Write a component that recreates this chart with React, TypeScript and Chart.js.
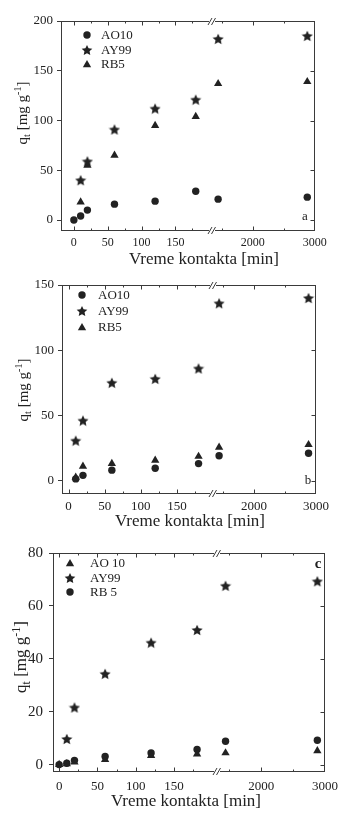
import { useEffect, useRef } from "react";
import { Chart, registerables } from "chart.js";

Chart.register(...registerables);

// Contact times [min]: short segment and long segment of the broken axis
const shortTimes = [0, 10, 20, 60, 120, 180];
const longTimes = [1440, 2880];
const shortTicks = [0, 50, 100, 150];
const longTicks = [2000, 3000];
const shortMinor = [25, 75, 125, 175];
const longMinor = [1500, 2500];

// Panel a
const aNames = ["AO10", "AY99", "RB5"];
const aAO10 = [0, 4, 10, 16, 19, 29, 21, 23];
const aAY99 = [null, 40, 59, 91, 112, 121, 182, 185];
const aRB5 = [null, 18, 55, 65, 95, 104, 137, 139];
const aYTicks = [0, 50, 100, 150, 200];

// Panel b
const bNames = ["AO10", "AY99", "RB5"];
const bAO10 = [null, 1.3, 4, 8, 9.5, 13, 19, 21];
const bAY99 = [null, 30.6, 46, 75, 78, 86, 136, 140];
const bRB5 = [null, 2.5, 11, 13, 15.5, 18.5, 25.5, 27.5];
const bYTicks = [0, 50, 100, 150];

// Panel c
const cNames = ["AO 10", "AY99", "RB 5"];
const cAO10 = [0, 0.3, 0.9, 1.9, 3.4, 4, 4.4, 5.2];
const cAY99 = [null, 9.7, 21.6, 34.3, 46.1, 50.9, 67.6, 69.3];
const cRB5 = [0, 0.5, 1.6, 3.1, 4.4, 5.7, 8.8, 9.2];
const cYTicks = [0, 20, 40, 60, 80];

const FONT = "'Liberation Serif', 'DejaVu Serif', 'Times New Roman', serif";
const INK = "#222222";
const AXIS = "#3a3a3a";
const W = 344;

type Marker = "circle" | "star" | "triangle";

interface PanelSpec {
  top: number;
  height: number;
  pad: { left: number; right: number; top: number };
  xAxisH: number;
  yAxisW: number;
  xLeft: [number, number];
  xRight: [number, number];
  wLeft: number;
  wRight: number;
  y: [number, number];
  yTicks: number[];
  yFont: number;
  yPad: number;
  xFont: number;
  xLabelY: number;
  names: string[];
  markers: Marker[];
  values: (number | null)[][];
  legend: { mx: number; rows: number[]; tx: number; font: number };
  letter: { text: string; x: number; y: number; bold: boolean; size: number };
  xTitle: [number, number];
  yTitle: [number, number];
  xTitleFont: number;
  yTitleFont: number;
}

let starCache: HTMLCanvasElement | null = null;
function starImage(): HTMLCanvasElement {
  if (starCache) return starCache;
  const size = 12;
  const c = document.createElement("canvas");
  c.width = size;
  c.height = size;
  const g = c.getContext("2d")!;
  starPath(g, size / 2, size / 2 + 0.5, size / 2 - 0.2);
  g.fillStyle = INK;
  g.fill();
  starCache = c;
  return c;
}

function starPath(g: CanvasRenderingContext2D, cx: number, cy: number, R: number) {
  const r = R * 0.48;
  g.beginPath();
  for (let i = 0; i < 10; i++) {
    const ang = -Math.PI / 2 + (i * Math.PI) / 5;
    const rad = i % 2 === 0 ? R : r;
    g.lineTo(cx + rad * Math.cos(ang), cy + rad * Math.sin(ang));
  }
  g.closePath();
}

function drawMarker(g: CanvasRenderingContext2D, m: Marker, x: number, y: number) {
  g.fillStyle = INK;
  if (m === "circle") {
    g.beginPath();
    g.arc(x, y, 3.7, 0, Math.PI * 2);
    g.fill();
  } else if (m === "triangle") {
    const r = 4.8;
    g.beginPath();
    for (let i = 0; i < 3; i++) {
      const ang = -Math.PI / 2 + (i * 2 * Math.PI) / 3;
      g.lineTo(x + r * Math.cos(ang), y + 0.8 + r * Math.sin(ang));
    }
    g.closePath();
    g.fill();
  } else {
    starPath(g, x, y + 0.5, 5.6);
    g.fill();
  }
}

function pointStyleFor(m: Marker): any {
  if (m === "star") return starImage();
  return m;
}

function radiusFor(m: Marker) {
  if (m === "circle") return 3.7;
  if (m === "triangle") return 4.8;
  return 6;
}

const panelA: PanelSpec = {
  top: 0,
  height: 272,
  pad: { left: 16, right: 29, top: 21 },
  xAxisH: 41,
  yAxisW: 45,
  xLeft: [-19, 204],
  xRight: [1341, 3005],
  wLeft: 151,
  wRight: 103,
  y: [-11, 200],
  yTicks: aYTicks,
  yFont: 13,
  yPad: 4,
  xFont: 12,
  xLabelY: 243,
  names: aNames,
  markers: ["circle", "star", "triangle"],
  values: [aAO10, aAY99, aRB5],
  legend: { mx: 87, rows: [35, 50, 64], tx: 101, font: 13 },
  letter: { text: "a", x: 305, y: 217, bold: false, size: 13 },
  xTitle: [204, 260],
  yTitle: [22, 113],
  xTitleFont: 17,
  yTitleFont: 15,
};

const panelB: PanelSpec = {
  top: 272,
  height: 258,
  pad: { left: 17, right: 28, top: 13 },
  xAxisH: 36,
  yAxisW: 45,
  xLeft: [-9, 200],
  xRight: [1342, 3000],
  wLeft: 151,
  wRight: 103,
  y: [-10.3, 150],
  yTicks: bYTicks,
  yFont: 13,
  yPad: 4,
  xFont: 13,
  xLabelY: 235,
  names: bNames,
  markers: ["circle", "star", "triangle"],
  values: [bAO10, bAY99, bRB5],
  legend: { mx: 82, rows: [23, 39, 55], tx: 98, font: 13 },
  letter: { text: "b", x: 308, y: 209, bold: false, size: 13 },
  xTitle: [190, 250],
  yTitle: [23, 118],
  xTitleFont: 17,
  yTitleFont: 15,
};

const panelC: PanelSpec = {
  top: 530,
  height: 283,
  pad: { left: 8, right: 19, top: 23 },
  xAxisH: 41,
  yAxisW: 45,
  xLeft: [-8, 206],
  xRight: [1306, 3000],
  wLeft: 164,
  wRight: 108,
  y: [-2.8, 80],
  yTicks: cYTicks,
  yFont: 15,
  yPad: 6,
  xFont: 13,
  xLabelY: 257,
  names: cNames,
  markers: ["triangle", "star", "circle"],
  values: [cAO10, cAY99, cRB5],
  legend: { mx: 70, rows: [33, 48, 62], tx: 90, font: 13 },
  letter: { text: "c", x: 318, y: 34, bold: true, size: 15 },
  xTitle: [186, 272],
  yTitle: [21, 127],
  xTitleFont: 17,
  yTitleFont: 17,
};

function crisp(v: number) {
  return Math.round(v) + 0.5;
}

function decorations(p: PanelSpec) {
  return {
    id: "panelDecor",
    afterDraw(chart: any) {
      const g: CanvasRenderingContext2D = chart.ctx;
      const a = chart.chartArea;
      const xl = chart.scales.xL;
      const xr = chart.scales.xR;
      const ys = chart.scales.y;
      const L = crisp(a.left);
      const R = crisp(a.right - 1);
      const T = crisp(a.top);
      const B = crisp(a.bottom - 1);
      g.save();
      g.strokeStyle = AXIS;
      g.lineWidth = 1;
      g.strokeRect(L, T, R - L, B - T);

      // inward tick marks on the time axes (bottom and top)
      const tick = (px: number, len: number) => {
        const x = crisp(px);
        g.beginPath();
        g.moveTo(x, B);
        g.lineTo(x, B - len);
        g.moveTo(x, T);
        g.lineTo(x, T + len);
        g.stroke();
      };
      shortTicks.forEach((v) => tick(xl.getPixelForValue(v), 4));
      shortMinor.forEach((v) => v < p.xLeft[1] && tick(xl.getPixelForValue(v), 2));
      longTicks.forEach((v) => v <= p.xRight[1] && tick(Math.min(xr.getPixelForValue(v), a.right - 1), 4));
      longMinor.forEach((v) => v > p.xRight[0] && tick(xr.getPixelForValue(v), 2));

      // inward ticks on the right border
      p.yTicks.forEach((v) => {
        const y = crisp(ys.getPixelForValue(v));
        g.beginPath();
        g.moveTo(R, y);
        g.lineTo(R - 4, y);
        g.stroke();
      });

      // axis break marks
      const bx = xr.left;
      [T, B].forEach((ly) => {
        g.fillStyle = "#ffffff";
        g.fillRect(bx - 3, ly - 2, 6, 4);
        g.strokeStyle = AXIS;
        g.beginPath();
        [-2, 1.5].forEach((dx) => {
          g.moveTo(bx + dx - 2, ly + 3.5);
          g.lineTo(bx + dx + 2, ly - 3.5);
        });
        g.stroke();
      });

      // time-axis tick labels
      g.fillStyle = INK;
      g.font = `${p.xFont}px ${FONT}`;
      g.textAlign = "center";
      g.textBaseline = "middle";
      shortTicks.forEach((v) => g.fillText(String(v), xl.getPixelForValue(v), p.xLabelY));
      longTicks.forEach((v) => g.fillText(String(v), xr.getPixelForValue(v), p.xLabelY));

      // legend inside the plot
      g.font = `${p.legend.font}px ${FONT}`;
      g.textAlign = "left";
      g.textBaseline = "middle";
      p.names.forEach((name, i) => {
        const y = p.legend.rows[i];
        drawMarker(g, p.markers[i], p.legend.mx, y);
        g.fillStyle = INK;
        g.fillText(name, p.legend.tx, y + 0.5);
      });

      // panel letter
      g.fillStyle = INK;
      g.font = `${p.letter.bold ? "bold " : ""}${p.letter.size}px ${FONT}`;
      g.textAlign = "center";
      g.fillText(p.letter.text, p.letter.x, p.letter.y);

      // x-axis title
      g.font = `${p.xTitleFont}px ${FONT}`;
      g.textAlign = "center";
      g.textBaseline = "middle";
      g.fillText("Vreme kontakta [min]", p.xTitle[0], p.xTitle[1]);

      // y-axis title with subscript and superscript
      const f = p.yTitleFont;
      const small = Math.round(f * 0.68);
      const parts = [
        { t: "q", s: f, dy: 0 },
        { t: "t", s: small, dy: f * 0.22 },
        { t: " [mg g", s: f, dy: 0 },
        { t: "-1", s: small, dy: -f * 0.38 },
        { t: "]", s: f, dy: 0 },
      ];
      let total = 0;
      const widths = parts.map((pt) => {
        g.font = `${pt.s}px ${FONT}`;
        const w = g.measureText(pt.t).width;
        total += w;
        return w;
      });
      g.translate(p.yTitle[0], p.yTitle[1]);
      g.rotate(-Math.PI / 2);
      g.textAlign = "left";
      g.textBaseline = "alphabetic";
      let x = -total / 2;
      const base = f * 0.3;
      parts.forEach((pt, i) => {
        g.font = `${pt.s}px ${FONT}`;
        g.fillText(pt.t, x, base + pt.dy);
        x += widths[i];
      });
      g.restore();
    },
  };
}

function buildConfig(p: PanelSpec): any {
  const datasets: any[] = [];
  p.values.forEach((vals, i) => {
    const m = p.markers[i];
    const common = {
      label: p.names[i],
      pointStyle: pointStyleFor(m),
      pointRadius: radiusFor(m),
      pointBackgroundColor: INK,
      pointBorderColor: INK,
      pointBorderWidth: 0,
      showLine: false,
      yAxisID: "y",
    };
    datasets.push({
      ...common,
      xAxisID: "xL",
      data: shortTimes
        .map((t, k) => ({ x: t, y: vals[k] }))
        .filter((pt) => pt.y !== null),
    });
    datasets.push({
      ...common,
      xAxisID: "xR",
      data: longTimes
        .map((t, k) => ({ x: t, y: vals[shortTimes.length + k] }))
        .filter((pt) => pt.y !== null),
    });
  });

  const timeAxis = (range: [number, number], weight: number, ticks: number[]) => ({
    type: "linear",
    position: "bottom",
    stack: "time",
    stackWeight: weight,
    min: range[0],
    max: range[1],
    grid: { display: false },
    border: { display: false },
    ticks: { display: false },
    afterBuildTicks: (s: any) => {
      s.ticks = ticks.map((v) => ({ value: v }));
    },
    afterFit: (s: any) => {
      s.height = p.xAxisH;
    },
  });

  return {
    type: "scatter",
    data: { datasets },
    options: {
      responsive: false,
      animation: false,
      devicePixelRatio: 1,
      layout: { padding: { left: p.pad.left, right: p.pad.right, top: p.pad.top, bottom: 0 } },
      plugins: { legend: { display: false }, tooltip: { enabled: false } },
      scales: {
        xL: timeAxis(p.xLeft, p.wLeft, shortTicks),
        xR: timeAxis(p.xRight, p.wRight, longTicks),
        y: {
          type: "linear",
          position: "left",
          min: p.y[0],
          max: p.y[1],
          grid: {
            display: true,
            drawOnChartArea: false,
            drawTicks: true,
            tickLength: 4,
            color: AXIS,
          },
          border: { display: false },
          ticks: {
            font: { family: FONT, size: p.yFont },
            color: INK,
            padding: p.yPad,
            autoSkip: false,
            callback: (v: any) => String(v),
          },
          afterBuildTicks: (s: any) => {
            s.ticks = p.yTicks.map((v) => ({ value: v }));
          },
          afterFit: (s: any) => {
            s.width = p.yAxisW;
          },
        },
      },
    },
    plugins: [decorations(p)],
  };
}

function Panel({ spec }: { spec: PanelSpec }) {
  const ref = useRef<HTMLCanvasElement>(null);
  useEffect(() => {
    if (!ref.current) return;
    const chart = new Chart(ref.current, buildConfig(spec));
    return () => chart.destroy();
  }, [spec]);
  return (
    <div style={{ position: "absolute", left: 0, top: spec.top, width: W, height: spec.height }}>
      <canvas
        ref={ref}
        width={W}
        height={spec.height}
        style={{ display: "block", width: W, height: spec.height }}
      />
    </div>
  );
}

export default function App() {
  return (
    <div
      style={{
        position: "absolute",
        left: 0,
        top: 0,
        width: W,
        height: 813,
        background: "#ffffff",
        overflow: "hidden",
      }}
    >
      <Panel spec={panelA} />
      <Panel spec={panelB} />
      <Panel spec={panelC} />
    </div>
  );
}
